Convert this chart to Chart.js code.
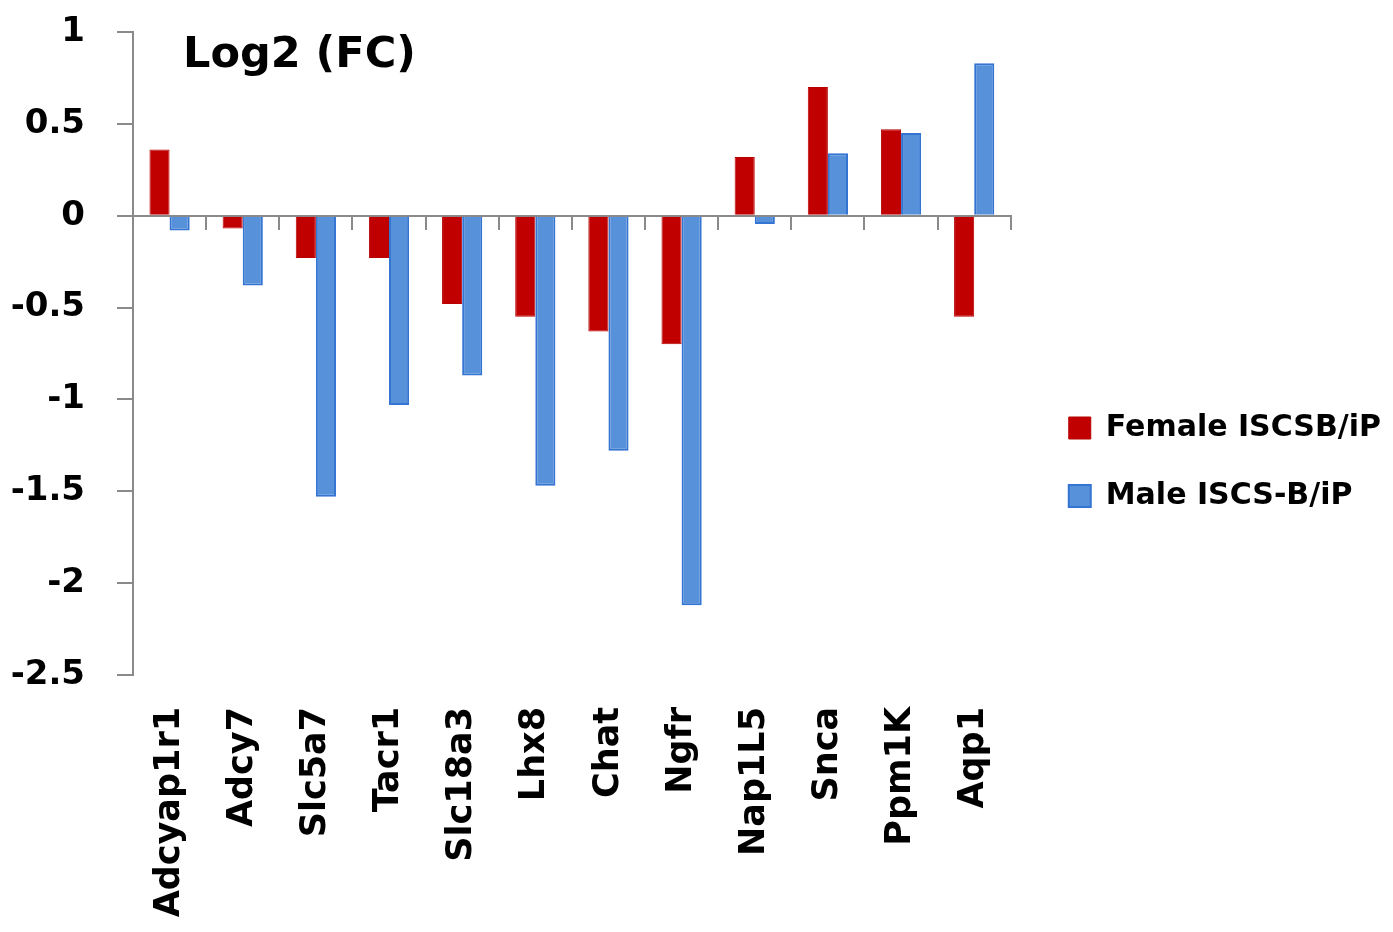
<!DOCTYPE html>
<html>
<head>
<meta charset="utf-8">
<script src="https://cdn.jsdelivr.net/npm/chart.js@4.4.1/dist/chart.umd.min.js"></script>
<style>
  html, body { margin: 0; padding: 0; background: #ffffff; }
  #wrap { width: 1393px; height: 932px; }
</style>
</head>
<body>
<div id="wrap"><canvas id="c" width="1393" height="932"></canvas></div>
<script>
const categories = ['Adcyap1r1', 'Adcy7', 'Slc5a7', 'Tacr1', 'Slc18a3', 'Lhx8', 'Chat', 'Ngfr', 'Nap1L5', 'Snca', 'Ppm1K', 'Aqp1'];
const femaleValues = [0.36, -0.07, -0.23, -0.23, -0.48, -0.55, -0.63, -0.70, 0.32, 0.70, 0.47, -0.55];
const maleValues = [-0.08, -0.38, -1.53, -1.03, -0.87, -1.47, -1.28, -2.12, -0.045, 0.34, 0.45, 0.83];
const seriesNames = ['Female ISCSB/iP', 'Male ISCS-B/iP'];
const yMin = -2.5, yMax = 1, yStep = 0.5;
const chartTitle = 'Log2 (FC)';

const FONT = 'DejaVu Sans';
const AXIS_GRAY = '#8a8a8a';

// Legend geometry: measure the longest legend label so the legend box is wide enough.
const LEGEND_FONT_SIZE = 30;
const LEGEND_BOX = 22;
const LEGEND_PAD = 38;
const measureCtx = document.createElement('canvas').getContext('2d');
measureCtx.font = 'bold ' + LEGEND_FONT_SIZE + 'px "' + FONT + '"';
const legendTextW = Math.max(...seriesNames.map(s => measureCtx.measureText(s).width));
const legendW = Math.ceil(LEGEND_PAD + LEGEND_BOX + LEGEND_FONT_SIZE / 2 + legendTextW + 10) + 1;
const legendLeft = 1029;
const padRight = Math.max(0, 1393 - legendLeft - legendW);

const titlePlugin = {
  id: 'insideTitle',
  afterDraw(chart) {
    const ctx = chart.ctx;
    ctx.save();
    ctx.font = 'bold 43px "' + FONT + '"';
    ctx.fillStyle = '#000000';
    ctx.textAlign = 'left';
    ctx.textBaseline = 'alphabetic';
    ctx.fillText(chartTitle, chart.chartArea.left + 50, 67);
    ctx.restore();
  }
};

new Chart(document.getElementById('c'), {
  type: 'bar',
  data: {
    labels: categories,
    datasets: [
      {
        label: seriesNames[0],
        data: femaleValues,
        backgroundColor: '#c00000',
        borderColor: '#b80000',
        borderWidth: 1,
        categoryPercentage: 0.55,
        barPercentage: 1.0
      },
      {
        label: seriesNames[1],
        data: maleValues,
        backgroundColor: '#5791d9',
        borderColor: '#3474d2',
        borderWidth: 2,
        categoryPercentage: 0.55,
        barPercentage: 1.0
      }
    ]
  },
  options: {
    responsive: false,
    animation: false,
    devicePixelRatio: 1,
    layout: { padding: { top: 32, left: 0, right: padRight, bottom: 0 } },
    plugins: {
      tooltip: { enabled: false },
      legend: {
        position: 'right',
        align: 'center',
        fullSize: false,
        maxWidth: legendW,
        title: { display: true, text: ' ', font: { size: 10 }, padding: { top: 205, bottom: 0 } },
        labels: {
          boxWidth: LEGEND_BOX,
          boxHeight: LEGEND_BOX,
          padding: LEGEND_PAD,
          color: '#000000',
          font: { family: FONT, size: LEGEND_FONT_SIZE, weight: 'bold' }
        }
      }
    },
    scales: {
      x: {
        type: 'category',
        position: 'bottom',
        grid: { display: false, drawTicks: false },
        border: { display: false },
        ticks: {
          autoSkip: false,
          minRotation: 90,
          maxRotation: 90,
          padding: 32,
          color: '#000000',
          font: { family: FONT, size: 35, weight: 'bold' }
        },
        afterFit(s) { s.height = 257; }
      },
      x2: {
        type: 'category',
        position: { y: 0 },
        offset: true,
        grid: { display: true, offset: true, drawOnChartArea: false, drawTicks: true, tickLength: 13, color: AXIS_GRAY, lineWidth: 2 },
        border: { display: true, color: AXIS_GRAY, width: 2 },
        ticks: { display: false }
      },
      y: {
        type: 'linear',
        position: 'left',
        min: yMin,
        max: yMax,
        grid: { display: true, drawOnChartArea: false, drawTicks: true, tickLength: 16, color: AXIS_GRAY, lineWidth: 2 },
        border: { display: true, color: AXIS_GRAY, width: 2 },
        ticks: {
          stepSize: yStep,
          padding: 32,
          color: '#000000',
          font: { family: FONT, size: 34, weight: 'bold' },
          callback: (v) => String(v)
        },
        afterFit(s) { s.width = 133; s.paddingTop = 0; s.paddingBottom = 0; }
      },
      yRight: {
        type: 'linear',
        position: 'right',
        display: true,
        grid: { display: false, drawTicks: false },
        border: { display: false },
        ticks: { display: false },
        afterFit(s) { s.width = 20; s.paddingTop = 0; s.paddingBottom = 0; }
      }
    }
  },
  plugins: [titlePlugin]
});
</script>
</body>
</html>
